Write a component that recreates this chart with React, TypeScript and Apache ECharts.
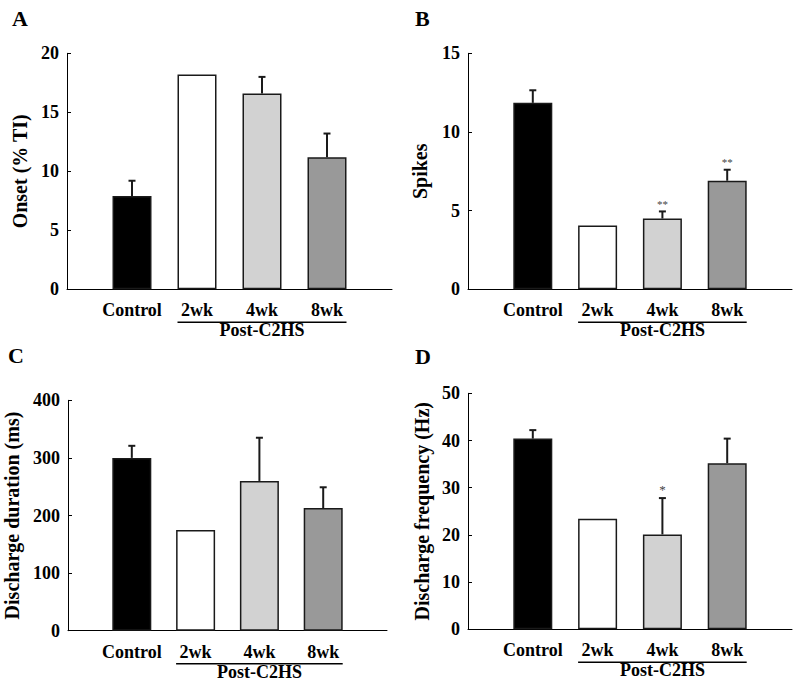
import React, { useEffect, useRef } from "react";
import * as echarts from "echarts";

const categories = ["Control", "2wk", "4wk", "8wk"];
const barColors = ["#000000", "#ffffff", "#d2d2d2", "#999999"];

const onsetMean = [7.9, 18.2, 16.6, 11.2];
const onsetSem = [1.3, null, 1.4, 2.0];
const onsetSig = ["", "", "", ""];

const spikesMean = [11.85, 4.05, 4.5, 6.9];
const spikesSem = [0.8, null, 0.45, 0.7];
const spikesSig = ["", "", "**", "**"];

const durationMean = [300, 175, 260, 213];
const durationSem = [21, null, 75, 36];
const durationSig = ["", "", "", ""];

const freqMean = [40.4, 23.4, 20.1, 35.2];
const freqSem = [1.8, null, 7.7, 5.2];
const freqSig = ["", "", "*", ""];

const panelLetters = ["A", "B", "C", "D"];
const yNames = ["Onset (% TI)", "Spikes", "Discharge duration (ms)", "Discharge frequency (Hz)"];
const yMax = [20, 15, 400, 50];
const yInterval = [5, 5, 100, 10];
const groupLabel = "Post-C2HS";

const FONT = "'Liberation Serif', 'Times New Roman', serif";

export default function App() {
  const ref = useRef<HTMLDivElement>(null);
  useEffect(() => {
    document.body.style.margin = "0";
    const chart = echarts.init(ref.current!, null, { renderer: "svg" });
    const means = [onsetMean, spikesMean, durationMean, freqMean];
    const sems = [onsetSem, spikesSem, durationSem, freqSem];
    const sigs = [onsetSig, spikesSig, durationSig, freqSig];
    const grids = [
      { left: 67, top: 53.3, width: 325, height: 236 },
      { left: 468, top: 53.3, width: 324, height: 236 },
      { left: 68, top: 400.3, width: 319, height: 230.4 },
      { left: 468, top: 393.3, width: 324, height: 236 },
    ];
    const nameGaps = [37, 38, 46, 36];
    const axisCats = ["", ...categories, ""];
    const barW = 39;

    const xAxis = grids.map((_, i) => ({
      type: "category",
      gridIndex: i,
      data: axisCats,
      boundaryGap: false,
      axisLine: { lineStyle: { color: "#000", width: 1 } },
      axisTick: { show: false },
      axisLabel: {
        interval: 0,
        margin: 12,
        color: "#000",
        fontFamily: FONT,
        fontWeight: "bold",
        fontSize: 18,
      },
      splitLine: { show: false },
    }));
    const yAxis = grids.map((_, i) => ({
      type: "value",
      gridIndex: i,
      min: 0,
      max: yMax[i],
      interval: yInterval[i],
      name: yNames[i],
      nameLocation: "middle",
      nameGap: nameGaps[i],
      nameTextStyle: { color: "#000", fontFamily: FONT, fontWeight: "bold", fontSize: 20 },
      axisLine: { show: true, lineStyle: { color: "#000", width: 1 } },
      axisTick: { show: true, inside: true, length: 4, lineStyle: { color: "#000" } },
      axisLabel: { margin: 8, color: "#000", fontFamily: FONT, fontWeight: "bold", fontSize: 18 },
      splitLine: { show: false },
    }));

    const series: any[] = [];
    grids.forEach((_, g) => {
      series.push({
        type: "bar",
        xAxisIndex: g,
        yAxisIndex: g,
        barWidth: barW,
        data: [
          "-",
          ...categories.map((c, i) => ({
            value: means[g][i],
            itemStyle: { color: barColors[i], borderColor: "#1a1a1a", borderWidth: 1.5 },
          })),
          "-",
        ],
        silent: true,
      });
      const errData = categories
        .map((c, i) => ({ i, m: means[g][i], s: sems[g][i], sig: sigs[g][i] }))
        .filter((d) => d.s !== null)
        .map((d) => ({ value: [d.i + 1, d.m, d.s as number], sig: d.sig }));
      series.push({
        type: "custom",
        xAxisIndex: g,
        yAxisIndex: g,
        silent: true,
        z: 5,
        data: errData.map((d) => d.value),
        encode: { x: 0, y: 1 },
        renderItem: (params: any, api: any) => {
          const x = api.value(0);
          const m = api.value(1);
          const s = api.value(2);
          const p0 = api.coord([x, m]);
          const p1 = api.coord([x, m + s]);
          const sig = errData[params.dataIndex].sig;
          const children: any[] = [
            {
              type: "line",
              shape: { x1: p0[0], y1: p0[1], x2: p1[0], y2: p1[1] },
              style: { stroke: "#1a1a1a", lineWidth: 2 },
            },
            {
              type: "line",
              shape: { x1: p1[0] - 3.5, y1: p1[1], x2: p1[0] + 3.5, y2: p1[1] },
              style: { stroke: "#1a1a1a", lineWidth: 2 },
            },
          ];
          if (sig) {
            children.push({
              type: "text",
              x: p1[0],
              y: p1[1] - 2,
              style: {
                text: sig,
                fill: "#444",
                font: `${sig.length > 1 ? 11 : 13}px ${FONT}`,
                textAlign: "center",
                textVerticalAlign: "bottom",
              },
            });
          }
          return { type: "group", children };
        },
      });
    });

    chart.setOption({
      animation: false,
      backgroundColor: "#fff",
      grid: grids.map((g) => ({ ...g, containLabel: false })),
      xAxis,
      yAxis,
      series,
    });

    const letterPos = [
      [12, 18],
      [415, 18],
      [8, 355],
      [415, 356],
    ];
    const graphic: any[] = [];
    grids.forEach((_, g) => {
      const xl = (chart.convertToPixel({ xAxisIndex: g } as any, 2) as any) - barW / 2;
      const xr = (chart.convertToPixel({ xAxisIndex: g } as any, 4) as any) + barW / 2;
      const y0 = chart.convertToPixel({ yAxisIndex: g } as any, 0) as any;
      graphic.push({
        type: "line",
        shape: { x1: xl, y1: y0 + 33, x2: xr, y2: y0 + 33 },
        style: { stroke: "#000", lineWidth: 1.5 },
      });
      graphic.push({
        type: "text",
        x: (xl + xr) / 2,
        y: y0 + 41,
        style: {
          text: groupLabel,
          fill: "#000",
          font: `bold 18px ${FONT}`,
          textAlign: "center",
          textVerticalAlign: "middle",
        },
      });
      graphic.push({
        type: "text",
        x: letterPos[g][0],
        y: letterPos[g][1],
        style: {
          text: panelLetters[g],
          fill: "#000",
          font: `bold 22px ${FONT}`,
          textAlign: "left",
          textVerticalAlign: "middle",
        },
      });
    });
    chart.setOption({ graphic });

    return () => chart.dispose();
  }, []);
  return <div ref={ref} style={{ width: 800, height: 683 }} />;
}
